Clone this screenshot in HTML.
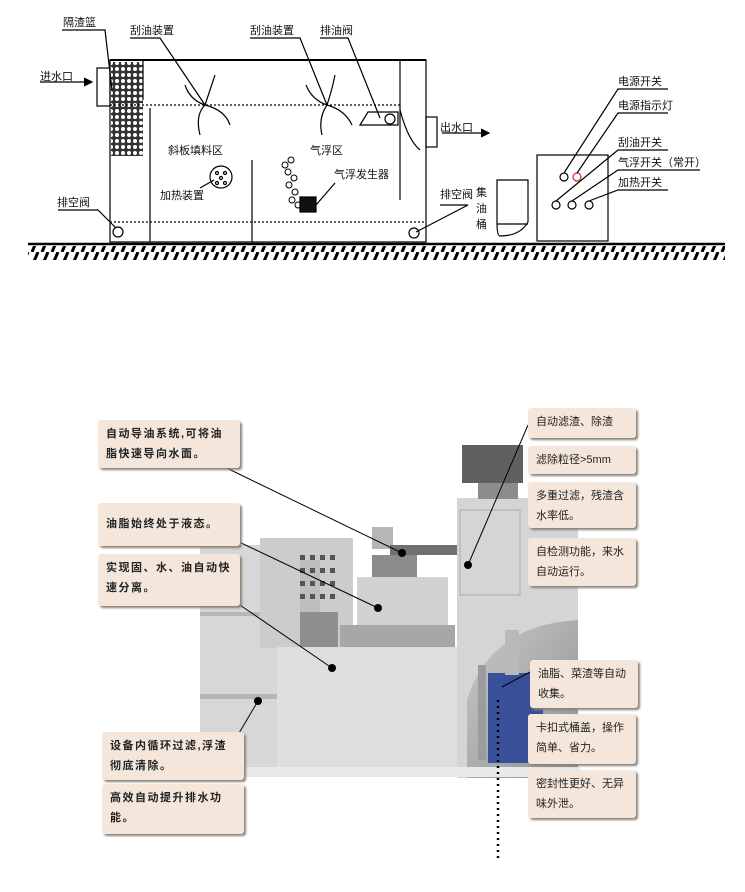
<!DOCTYPE html>
<html><head><meta charset="utf-8"><style>
html,body{margin:0;padding:0;background:#fff;}
body{width:745px;height:892px;position:relative;overflow:hidden;font-family:"Liberation Sans","Noto Sans CJK SC",sans-serif;}
svg text{font-family:"Liberation Sans","Noto Sans CJK SC",sans-serif;}
.b{position:absolute;background:#f4e6da;box-shadow:2px 2px 2px #8a8078;border-radius:3px;font-size:11px;line-height:20px;color:#222;padding:4px 8px;box-sizing:border-box;}
.l{letter-spacing:1.5px;font-weight:bold;padding:4px 6px 4px 8px;}
</style></head><body>
<svg width="745" height="892" style="position:absolute;left:0;top:0">
<defs>
<pattern id="mesh" width="6" height="6" patternUnits="userSpaceOnUse"><rect width="6" height="6" fill="#333"/><circle cx="3" cy="3" r="2" fill="#fff"/></pattern>
<pattern id="hatch" width="10" height="14" patternUnits="userSpaceOnUse"><line x1="8" y1="0" x2="2" y2="14" stroke="#000" stroke-width="3"/></pattern>
<linearGradient id="arch" x1="0" y1="0" x2="1" y2="1"><stop offset="0" stop-color="#c8c9cb"/><stop offset="1" stop-color="#8e9092"/></linearGradient>
</defs>
<g stroke="#000" fill="none" stroke-width="1.2">
<line x1="110" y1="60" x2="426" y2="60" stroke-width="2"/>
<rect x="110" y="60" width="316" height="182"/>
<rect x="111" y="62" width="32" height="94" fill="url(#mesh)" stroke="none"/>
<line x1="143" y1="60" x2="143" y2="100"/>
<rect x="97" y="68" width="13" height="38"/>
<line x1="110" y1="105" x2="400" y2="105" stroke-dasharray="2,2"/>
<line x1="110" y1="222" x2="426" y2="222" stroke-dasharray="2,2"/>
<line x1="150" y1="108" x2="150" y2="242"/>
<line x1="252" y1="160" x2="252" y2="242"/>
<line x1="400" y1="60" x2="400" y2="200"/>
<path d="M400 110 Q408 140 420 150 L420 150"/>
<rect x="426" y="117" width="11" height="30"/>
<line x1="40" y1="82" x2="90" y2="82"/><path d="M84 78 L92 82 L84 86" fill="#000"/>
<line x1="442" y1="133" x2="485" y2="133"/><path d="M481 129 L489 133 L481 137" fill="#000"/>
<path d="M205 105 Q190 100 185 85 M205 105 Q210 90 215 75 M205 105 Q225 110 230 125 M205 105 Q195 115 200 135"/>
<path d="M327 105 Q312 100 306 85 M327 105 Q332 90 335 75 M327 105 Q345 110 352 125 M327 105 Q318 118 322 135"/>
<path d="M360 125 L368 112 L398 112 L398 125 Z"/><circle cx="390" cy="119" r="5"/>
<circle cx="221" cy="177" r="11"/><circle cx="217" cy="173" r="1.5"/><circle cx="225" cy="173" r="1.5"/><circle cx="221" cy="178" r="1.5"/><circle cx="217" cy="183" r="1.5"/><circle cx="225" cy="183" r="1.5"/>
<g stroke-width="1"><circle cx="285" cy="165" r="3"/><circle cx="291" cy="160" r="3"/><circle cx="288" cy="172" r="3"/><circle cx="294" cy="178" r="3"/><circle cx="289" cy="185" r="3"/><circle cx="295" cy="192" r="3"/><circle cx="292" cy="200" r="3"/><circle cx="298" cy="205" r="3"/></g>
<rect x="300" y="197" width="16" height="15" fill="#111"/>
<circle cx="118" cy="232" r="5"/><circle cx="414" cy="233" r="5"/>
<path d="M62 30 L105 30 L112 90"/>
<path d="M130 38 L160 38 L205 105"/>
<path d="M250 38 L300 38 L327 105"/>
<path d="M320 38 L348 38 L380 118"/>
<path d="M58 210 L98 210 L116 228"/>
<path d="M440 205 L468 205 L416 232"/>
<path d="M200 188 L214 180"/>
<path d="M335 183 L316 205"/>
<path d="M497 180 L528 180 L528 222 Q520 236 500 236 Q497 236 497 222 Z"/>
<line x1="497" y1="224" x2="528" y2="224"/>
<rect x="537" y="155" width="71" height="86"/>
<circle cx="564" cy="177" r="4"/><circle cx="577" cy="177" r="4" stroke="#d22"/>
<circle cx="556" cy="205" r="4"/><circle cx="572" cy="205" r="4"/><circle cx="589" cy="205" r="4"/>
<path d="M668 89 L618 89 L564 173"/>
<path d="M668 113 L618 113 L577 173"/>
<path d="M668 150 L618 150 L556 201"/>
<path d="M700 170 L618 170 L572 201"/>
<path d="M668 190 L618 190 L589 201"/>
<line x1="28" y1="244" x2="725" y2="244" stroke-width="2.5"/>
</g>
<rect x="28" y="246" width="697" height="14" fill="url(#hatch)"/>
<g font-size="11" fill="#111">
<text x="63" y="26">隔渣篮</text><text x="130" y="34">刮油装置</text><text x="250" y="34">刮油装置</text><text x="320" y="34">排油阀</text>
<text x="40" y="80">进水口</text><text x="440" y="131">出水口</text>
<text x="168" y="154">斜板填料区</text><text x="310" y="154">气浮区</text>
<text x="160" y="199">加热装置</text><text x="334" y="178">气浮发生器</text>
<text x="57" y="206">排空阀</text><text x="440" y="198">排空阀</text>
<text x="476" y="196">集</text><text x="476" y="212">油</text><text x="476" y="228">桶</text>
<text x="618" y="85">电源开关</text><text x="618" y="109">电源指示灯</text><text x="618" y="146">刮油开关</text><text x="618" y="166">气浮开关（常开）</text><text x="618" y="186">加热开关</text>
</g>
<rect x="200" y="545" width="78" height="222" fill="#d6d7d9"/>
<rect x="200" y="612" width="78" height="4" fill="#b5b6b8"/>
<rect x="200" y="694" width="78" height="5" fill="#b5b6b8"/>
<rect x="260" y="538" width="93" height="110" fill="#cbcccd"/>
<rect x="300" y="560" width="20" height="85" fill="#bdbec0"/>
<g fill="#555"><rect x="300" y="555" width="5" height="5"/><rect x="310" y="555" width="5" height="5"/><rect x="320" y="555" width="5" height="5"/><rect x="330" y="555" width="5" height="5"/><rect x="300" y="568" width="5" height="5"/><rect x="310" y="568" width="5" height="5"/><rect x="320" y="568" width="5" height="5"/><rect x="330" y="568" width="5" height="5"/><rect x="300" y="581" width="5" height="5"/><rect x="310" y="581" width="5" height="5"/><rect x="320" y="581" width="5" height="5"/><rect x="330" y="581" width="5" height="5"/><rect x="300" y="594" width="5" height="5"/><rect x="310" y="594" width="5" height="5"/><rect x="320" y="594" width="5" height="5"/><rect x="330" y="594" width="5" height="5"/></g>
<rect x="300" y="612" width="38" height="35" fill="#8d8f91"/>
<rect x="357" y="577" width="91" height="50" fill="#d0d1d3"/>
<rect x="340" y="625" width="115" height="22" fill="#a5a7a9"/>
<rect x="372" y="527" width="21" height="22" fill="#b5b6b8"/>
<rect x="390" y="545" width="67" height="10" fill="#6e7072"/>
<rect x="372" y="555" width="45" height="22" fill="#8a8c8e"/>
<rect x="277" y="647" width="180" height="120" fill="#dddee0"/>
<rect x="457" y="498" width="121" height="280" fill="#d4d5d7"/>
<rect x="460" y="510" width="60" height="85" fill="none" stroke="#aaa"/>
<path d="M467 778 L467 700 Q490 625 578 620 L578 778 Z" fill="url(#arch)"/>
<rect x="462" y="445" width="61" height="38" fill="#5e6062"/>
<rect x="478" y="483" width="40" height="16" fill="#8a8c8e"/>
<rect x="488" y="673" width="55" height="90" fill="#3a4f9a"/>
<rect x="478" y="665" width="8" height="95" fill="#9a9c9e"/>
<rect x="505" y="630" width="14" height="45" fill="#b8b9bb"/>
<rect x="182" y="767" width="398" height="10" fill="#e8e9ea"/>
<g stroke="#000" stroke-width="1" fill="none">
<line x1="210" y1="460" x2="402" y2="553"/>
<line x1="218" y1="532" x2="378" y2="608"/>
<line x1="218" y1="590" x2="332" y2="668"/>
<line x1="232" y1="745" x2="258" y2="701"/>
<line x1="528" y1="425" x2="468" y2="565"/>
<line x1="530" y1="672" x2="502" y2="687"/>
</g>
<g fill="#000"><circle cx="402" cy="553" r="4"/><circle cx="378" cy="608" r="4"/><circle cx="332" cy="668" r="4"/><circle cx="258" cy="701" r="4"/><circle cx="468" cy="565" r="4"/></g>
<line x1="498" y1="700" x2="498" y2="860" stroke="#000" stroke-width="2.5" stroke-dasharray="2,4"/>
</svg>
<div class="b l" style="left:98px;top:420px;width:142px;height:48px;">自动导油系统,可将油脂快速导向水面。</div>
<div class="b l" style="left:98px;top:503px;width:142px;height:43px;line-height:35px;">油脂始终处于液态。</div>
<div class="b l" style="left:98px;top:554px;width:142px;height:52px;">实现固、水、油自动快速分离。</div>
<div class="b l" style="left:102px;top:732px;width:142px;height:48px;">设备内循环过滤,浮渣彻底清除。</div>
<div class="b l" style="left:102px;top:784px;width:142px;height:50px;">高效自动提升排水功能。</div>
<div class="b" style="left:528px;top:408px;width:108px;height:30px;">自动滤渣、除渣</div>
<div class="b" style="left:528px;top:446px;width:108px;height:28px;">滤除粒径&gt;5mm</div>
<div class="b" style="left:528px;top:482px;width:108px;height:46px;">多重过滤，残渣含水率低。</div>
<div class="b" style="left:528px;top:538px;width:108px;height:48px;">自检测功能，来水自动运行。</div>
<div class="b" style="left:530px;top:660px;width:108px;height:48px;">油脂、菜渣等自动收集。</div>
<div class="b" style="left:528px;top:714px;width:108px;height:50px;">卡扣式桶盖，操作简单、省力。</div>
<div class="b" style="left:528px;top:770px;width:108px;height:48px;">密封性更好、无异味外泄。</div>
</body></html>
